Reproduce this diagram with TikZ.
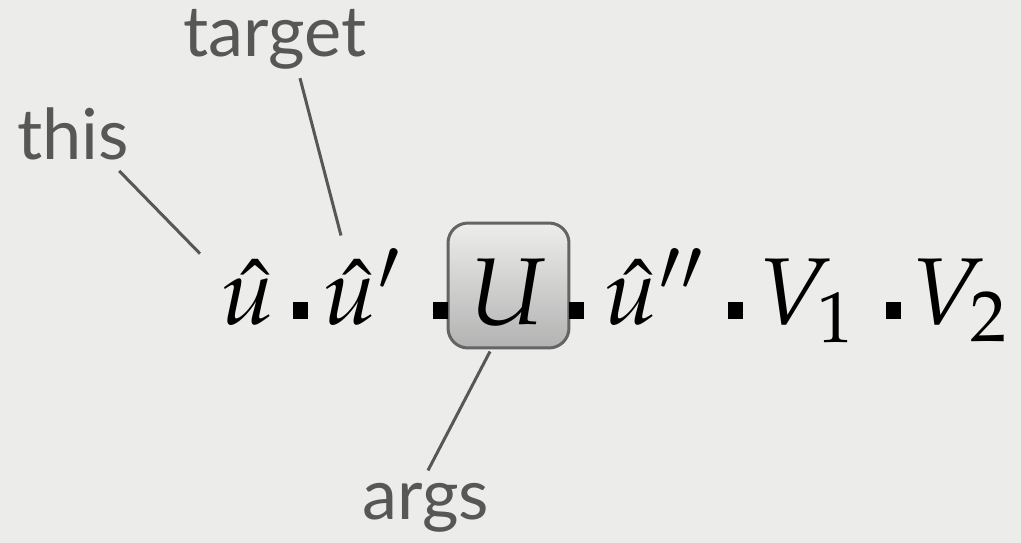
\documentclass[tikz,border=0pt]{standalone}
\usepackage{mathpazo}
\usepackage{fontspec}
\newfontfamily\tagfont{Lato}
\usetikzlibrary{positioning}

\definecolor{slide}{HTML}{ECECEA}
\definecolor{ink}{HTML}{575757}
\definecolor{boxline}{HTML}{646464}

\begin{document}
\begin{tikzpicture}[
    x=0.02cm, y=-0.02cm,
    tag/.style={font=\tagfont\fontsize{40}{44}\selectfont, text=ink, inner sep=0pt, anchor=base},
    term/.style={font=\fontsize{54}{58}\selectfont, inner sep=0pt, anchor=base west},
    sq/.style={fill=black, inner sep=0pt, minimum width=0.3cm, minimum height=0.34cm},
    argbox/.style={draw=boxline, line width=0.06cm, rounded corners=0.4cm, top color=slide!95!white, bottom color=black!30,
        inner sep=0pt, minimum width=2.42cm, text height=2.04cm, text depth=0.46cm, anchor=base, font=\fontsize{54}{58}\selectfont},
    lead/.style={draw=ink, line width=0.06cm}
]
% slide background
\fill[slide] (0,0) rectangle (1021,543);
\useasboundingbox (0,0) rectangle (1021,543);

% the expression
\node[term] (hu) at (220,325) {$\hat{u}$};
\node[term] (hup) at (322,325) {$\hat{u}'$};
\node[argbox] (arg) at (508.5,325) {$U$};
\node[term] (hupp) at (603,325) {$\hat{u}''$};
\node[term] (vone) at (758,325) {$V_1$};
\node[term] (vtwo) at (911,325) {$V_2$};

% separators
\node[sq] (d1) at (300.5,310.5) {};
\node[sq] (d2) at (440,310.5) {};
\node[sq] (d3) at (576.5,310.5) {};
\node[sq] (d4) at (735,310.5) {};
\node[sq] (d5) at (893.5,310.5) {};

% labels
\node[tag] (this) at (73,160) {this};
\node[tag] (target) at (275,57) {target};
\node[tag] (args) at (426,520) {args};

% leader lines
\coordinate (thisend) at ([shift={(-20,-6)}]hu.north west);
\coordinate (targetend) at ([shift={(19,-13)}]hup.north west);
\coordinate (argsend) at ([shift={(2,-13)}]args.north);
\draw[lead] ([shift={(-10,10)}]this.south east) -- (thisend);
\draw[lead] ([shift={(25,8)}]target.south) -- (targetend);
\draw[lead] ([shift={(-18.5,2)}]arg.south) -- (argsend);
\end{tikzpicture}
\end{document}
